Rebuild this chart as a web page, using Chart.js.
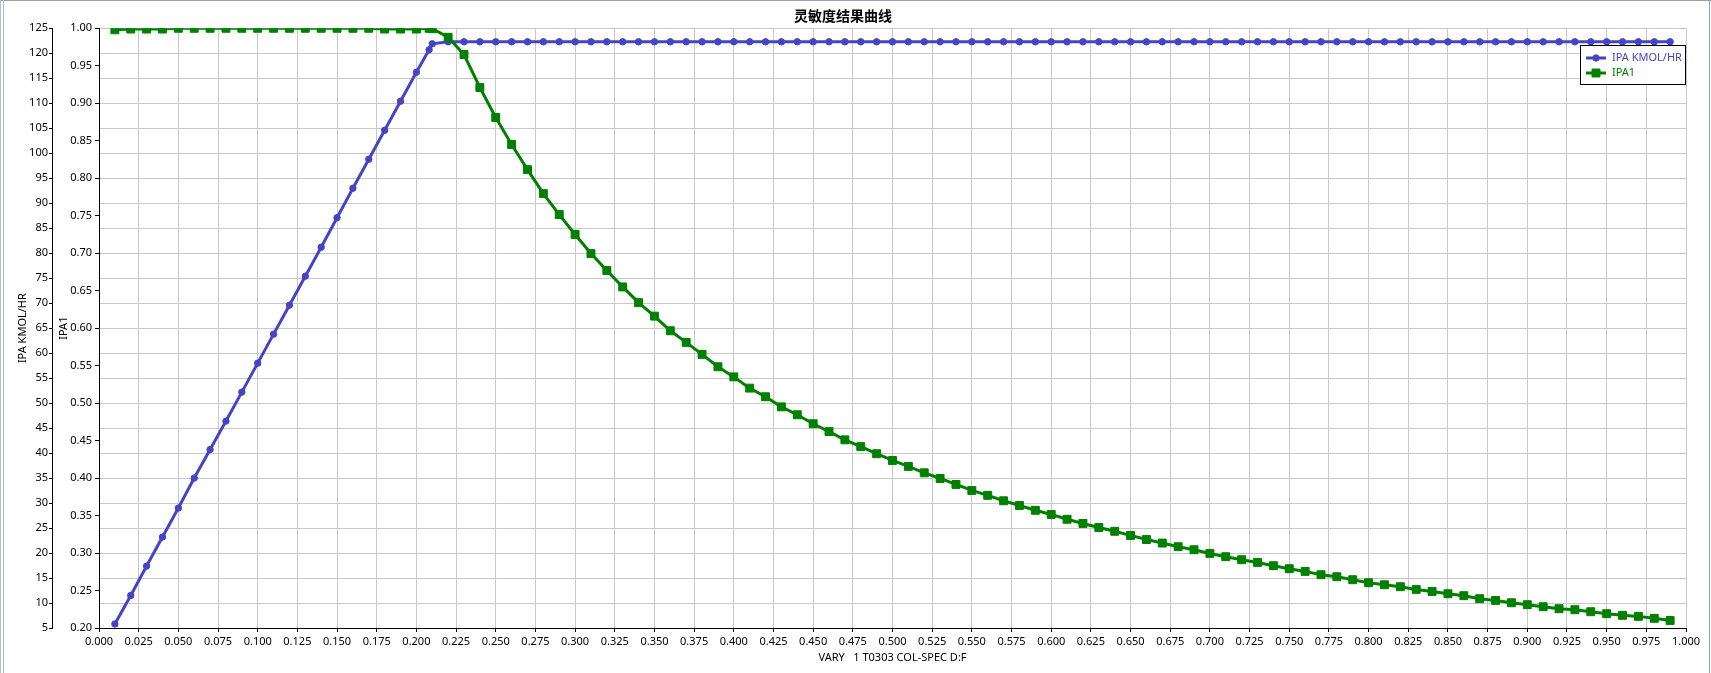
<!DOCTYPE html>
<html>
<head>
<meta charset="utf-8">
<script src="https://cdn.jsdelivr.net/npm/chart.js@4.4.1/dist/chart.umd.min.js"></script>
<style>
  html, body { margin: 0; padding: 0; background: #fff; }
  #wrap { position: relative; width: 1711px; height: 673px; }
  .frame { position: absolute; }
</style>
</head>
<body>
<div id="wrap">
  <canvas id="myChart" width="1711" height="673"></canvas>
  <div class="frame" style="left:0;top:0;width:1711px;height:1px;background:#98a2ae"></div>
  <div class="frame" style="left:0;top:0;width:1px;height:673px;background:#b2c0d6"></div>
  <div class="frame" style="left:3px;top:0;width:1px;height:673px;background:#b2c0d6"></div>
  <div class="frame" style="left:1709px;top:0;width:1px;height:673px;background:#98a2ae"></div>
</div>
<script>
// D:F values of the sensitivity run
var dfValues = [
  0.01, 0.02, 0.03, 0.04, 0.05, 0.06, 0.07, 0.08, 0.09, 0.10,
  0.11, 0.12, 0.13, 0.14, 0.15, 0.16, 0.17, 0.18, 0.19, 0.20,
  0.208, 0.21, 0.22, 0.23, 0.24, 0.25, 0.26, 0.27, 0.28, 0.29, 0.30,
  0.31, 0.32, 0.33, 0.34, 0.35, 0.36, 0.37, 0.38, 0.39, 0.40,
  0.41, 0.42, 0.43, 0.44, 0.45, 0.46, 0.47, 0.48, 0.49, 0.50,
  0.51, 0.52, 0.53, 0.54, 0.55, 0.56, 0.57, 0.58, 0.59, 0.60,
  0.61, 0.62, 0.63, 0.64, 0.65, 0.66, 0.67, 0.68, 0.69, 0.70,
  0.71, 0.72, 0.73, 0.74, 0.75, 0.76, 0.77, 0.78, 0.79, 0.80,
  0.81, 0.82, 0.83, 0.84, 0.85, 0.86, 0.87, 0.88, 0.89, 0.90,
  0.91, 0.92, 0.93, 0.94, 0.95, 0.96, 0.97, 0.98, 0.99
];

// IPA KMOL/HR (left outer axis)
var ipaKmol = [
  5.8, 11.5, 17.4, 23.2, 29.0, 35.0, 40.7, 46.4, 52.2, 58.0,
  63.8, 69.6, 75.4, 81.2, 87.1, 93.0, 98.8, 104.6, 110.4, 116.2,
  120.7, 121.9, 122.3, 122.3, 122.3, 122.3, 122.3, 122.3, 122.3, 122.3, 122.3,
  122.3, 122.3, 122.3, 122.3, 122.3, 122.3, 122.3, 122.3, 122.3, 122.3,
  122.3, 122.3, 122.3, 122.3, 122.3, 122.3, 122.3, 122.3, 122.3, 122.3,
  122.3, 122.3, 122.3, 122.3, 122.3, 122.3, 122.3, 122.3, 122.3, 122.3,
  122.3, 122.3, 122.3, 122.3, 122.3, 122.3, 122.3, 122.3, 122.3, 122.3,
  122.3, 122.3, 122.3, 122.3, 122.3, 122.3, 122.3, 122.3, 122.3, 122.3,
  122.3, 122.3, 122.3, 122.3, 122.3, 122.3, 122.3, 122.3, 122.3, 122.3,
  122.3, 122.3, 122.3, 122.3, 122.3, 122.3, 122.3, 122.3, 122.3
];

// IPA1 (left inner axis)
var ipa1 = [
  0.998, 0.999, 0.999, 0.999, 1.000, 1.000, 1.000, 1.000, 1.000, 1.000,
  1.000, 1.000, 1.000, 1.000, 1.000, 1.000, 1.000, 0.999, 0.999, 0.999,
  1.000, 0.9995, 0.988, 0.965, 0.921, 0.881, 0.845, 0.8115, 0.7795, 0.7515, 0.725,
  0.6995, 0.677, 0.655, 0.634, 0.616, 0.5965, 0.581, 0.565, 0.5485, 0.535,
  0.520, 0.5085, 0.495, 0.4845, 0.4725, 0.462, 0.451, 0.442, 0.4325, 0.4235,
  0.4155, 0.407, 0.3995, 0.3915, 0.3835, 0.377, 0.3697, 0.3635, 0.357, 0.3515,
  0.345, 0.3395, 0.334, 0.329, 0.3235, 0.318, 0.3133, 0.3085, 0.3044, 0.2995,
  0.2951, 0.2911, 0.2875, 0.2831, 0.2791, 0.2755, 0.2711, 0.2684, 0.2644, 0.2604,
  0.2577, 0.2551, 0.2515, 0.2488, 0.2457, 0.2431, 0.2391, 0.2368, 0.2337, 0.2311,
  0.2284, 0.2257, 0.2244, 0.2217, 0.2191, 0.2169, 0.2155, 0.2129, 0.2101
];

var seriesNames = ["IPA KMOL/HR", "IPA1"];
var chartTitle = "灵敏度结果曲线";
var xTitle = "VARY   1 T0303 COL-SPEC D:F";

var BLUE = "rgb(68, 68, 196)";
var GREEN = "rgb(0, 128, 0)";
var GRID = "#c8c8c8";
var tickFont = { family: "'Noto Sans', sans-serif", size: 11 };

function toPoints(ys) {
  return dfValues.map(function (x, i) { return { x: x, y: ys[i] }; });
}

// legend box inside the plot, top right
var legendBox = {
  id: 'legendBox',
  afterDraw: function (chart) {
    var ctx = chart.ctx, area = chart.chartArea;
    var w = 106, h = 40;
    var x0 = Math.round(area.right - w), y0 = Math.round(area.top + 17);
    ctx.save();
    ctx.fillStyle = '#fff';
    ctx.fillRect(x0, y0, w, h);
    ctx.strokeStyle = '#000';
    ctx.lineWidth = 1;
    ctx.strokeRect(x0 + 0.5, y0 + 0.5, w - 1, h - 1);
    chart.data.datasets.forEach(function (ds, i) {
      var cy = y0 + 13 + i * 15;
      ctx.strokeStyle = ds.borderColor;
      ctx.lineWidth = 3;
      ctx.beginPath();
      ctx.moveTo(x0 + 6, cy);
      ctx.lineTo(x0 + 26, cy);
      ctx.stroke();
      ctx.fillStyle = ds.borderColor;
      ctx.lineWidth = 1;
      Chart.helpers.drawPoint(ctx, {
        pointStyle: ds.pointStyle, radius: ds.pointRadius, rotation: 0, borderWidth: 1
      }, x0 + 16, cy);
      ctx.font = "11px 'Noto Sans', sans-serif";
      ctx.textBaseline = 'middle';
      ctx.textAlign = 'left';
      ctx.fillText(ds.label, x0 + 32, cy);
    });
    ctx.restore();
  }
};

var ctx = document.getElementById("myChart");

var myChart = new Chart(ctx, {
  type: 'line',
  data: {
    datasets: [{
      label: seriesNames[0],
      data: toPoints(ipaKmol),
      yAxisID: 'y',
      borderColor: BLUE,
      backgroundColor: BLUE,
      pointBackgroundColor: BLUE,
      pointBorderColor: BLUE,
      borderWidth: 3,
      pointStyle: 'circle',
      pointRadius: 3.2,
      pointBorderWidth: 1,
      tension: 0,
      order: 1
    }, {
      label: seriesNames[1],
      data: toPoints(ipa1),
      yAxisID: 'y1',
      borderColor: GREEN,
      backgroundColor: GREEN,
      pointBackgroundColor: GREEN,
      pointBorderColor: GREEN,
      borderWidth: 3,
      pointStyle: 'rect',
      pointRadius: 5.6,
      pointBorderWidth: 1,
      tension: 0,
      order: 0
    }]
  },
  options: {
    responsive: false,
    devicePixelRatio: 1,
    animation: false,
    layout: { padding: { left: 0, right: 25, top: 0, bottom: 0 } },
    plugins: {
      legend: { display: false },
      tooltip: { enabled: false },
      title: {
        display: true,
        text: chartTitle,
        color: '#000',
        font: { family: "'Noto Sans CJK SC', sans-serif", size: 14, weight: 'bold', lineHeight: 1.2 },
        padding: { top: 7.5, bottom: 4 }
      }
    },
    scales: {
      x: {
        type: 'linear',
        min: 0,
        max: 1,
        afterFit: function (s) { s.height = 45; },
        ticks: {
          stepSize: 0.025,
          autoSkip: false,
          maxRotation: 0,
          padding: 3,
          color: '#000',
          font: tickFont,
          callback: function (v) { return Number(v).toFixed(3); }
        },
        grid: {
          color: function (c) { return c.tick && c.tick.value === 0 ? 'rgba(0,0,0,0)' : GRID; },
          tickColor: '#000',
          tickLength: 4
        },
        border: { color: '#000', width: 1 },
        title: {
          display: true,
          text: xTitle,
          color: '#000',
          font: tickFont,
          padding: { top: 0, bottom: 9 }
        }
      },
      y: {
        type: 'linear',
        position: 'left',
        weight: 1,
        min: 5,
        max: 125,
        afterFit: function (s) { s.width = 52; },
        ticks: {
          stepSize: 5,
          padding: 1,
          color: '#000',
          font: tickFont
        },
        grid: {
          color: function (c) { return c.tick && c.tick.value === 5 ? 'rgba(0,0,0,0)' : GRID; },
          tickColor: '#000',
          tickLength: 3
        },
        border: { color: '#000', width: 1 },
        title: {
          display: true,
          text: seriesNames[0],
          color: '#000',
          font: tickFont,
          padding: { top: 16, bottom: 0 }
        }
      },
      y1: {
        type: 'linear',
        position: 'left',
        weight: 0,
        min: 0.2,
        max: 1.0,
        afterFit: function (s) { s.width = 47; },
        ticks: {
          stepSize: 0.05,
          padding: 3,
          color: '#000',
          font: tickFont,
          callback: function (v) { return Number(v).toFixed(2); }
        },
        grid: {
          drawOnChartArea: false,
          color: '#000',
          tickColor: '#000',
          tickLength: 4
        },
        border: { color: '#000', width: 1 },
        title: {
          display: true,
          text: seriesNames[1],
          color: '#000',
          font: tickFont,
          padding: { top: 5, bottom: 0 }
        }
      }
    }
  },
  plugins: [legendBox]
});
</script>
</body>
</html>
